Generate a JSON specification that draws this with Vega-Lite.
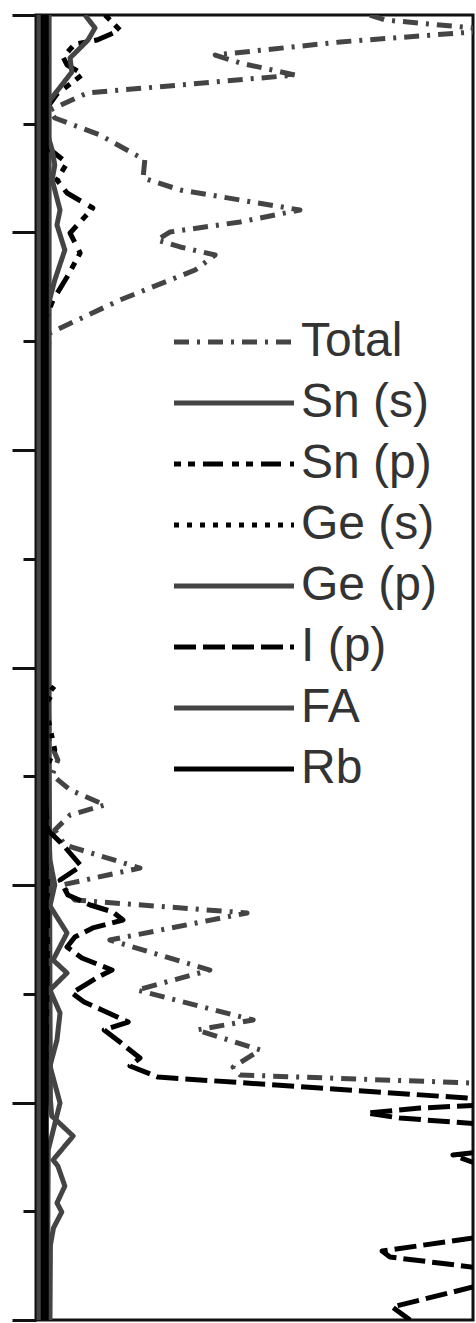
{
  "$schema": "https://vega.github.io/schema/vega-lite/v6.json",
  "width": 437,
  "height": 1305,
  "autosize": {"type": "none"},
  "padding": {"left": 36, "top": 15, "right": 3, "bottom": 3},
  "background": "white",
  "config": {
    "view": {"stroke": "#111", "strokeWidth": 3},
    "legend": {
      "orient": "none",
      "legendX": 138,
      "legendY": 303,
      "title": null,
      "padding": 0,
      "symbolType": "M-6,0H6",
      "symbolSize": 400,
      "symbolStrokeWidth": 5,
      "symbolOffset": 36,
      "labelOffset": 43,
      "labelFont": "Liberation Sans",
      "labelFontSize": 48,
      "labelColor": "#333",
      "rowPadding": 13,
      "labelLimit": 300
    }
  },
  "datasets": {
    "dos": [
      {"s":"Total","E":6.0,"d":7.64},{"s":"Total","E":5.954,"d":7.99},{"s":"Total","E":5.881,"d":10.0},{"s":"Total","E":5.862,"d":11.3},{"s":"Total","E":5.844,"d":10.0},{"s":"Total","E":5.752,"d":6.96},{"s":"Total","E":5.632,"d":4.10},{"s":"Total","E":5.559,"d":4.67},{"s":"Total","E":5.448,"d":5.93},{"s":"Total","E":5.283,"d":1.17},{"s":"Total","E":5.126,"d":0.32},{"s":"Total","E":5.053,"d":0.43},{"s":"Total","E":4.897,"d":1.46},{"s":"Total","E":4.667,"d":2.49},{"s":"Total","E":4.501,"d":2.45},{"s":"Total","E":4.391,"d":3.30},{"s":"Total","E":4.299,"d":4.67},{"s":"Total","E":4.207,"d":6.04},{"s":"Total","E":4.097,"d":4.67},{"s":"Total","E":4.005,"d":3.07},{"s":"Total","E":3.931,"d":2.77},{"s":"Total","E":3.867,"d":3.30},{"s":"Total","E":3.793,"d":4.10},{"s":"Total","E":3.655,"d":3.64},{"s":"Total","E":3.379,"d":1.92},{"s":"Total","E":3.076,"d":0.32},{"s":"Total","E":2.828,"d":0.25},{"s":"Total","E":2.0,"d":0.22},{"s":"Total","E":1.08,"d":0.22},{"s":"Total","E":0.161,"d":0.25},{"s":"Total","E":-0.299,"d":0.28},{"s":"Total","E":-0.667,"d":0.30},{"s":"Total","E":-0.851,"d":0.50},{"s":"Total","E":-0.989,"d":0.37},{"s":"Total","E":-1.126,"d":0.78},{"s":"Total","E":-1.264,"d":1.58},{"s":"Total","E":-1.356,"d":0.78},{"s":"Total","E":-1.494,"d":0.43},{"s":"Total","E":-1.632,"d":0.66},{"s":"Total","E":-1.844,"d":2.38},{"s":"Total","E":-2.0,"d":0.59},{"s":"Total","E":-2.138,"d":0.89},{"s":"Total","E":-2.257,"d":4.83},{"s":"Total","E":-2.506,"d":1.69},{"s":"Total","E":-2.782,"d":3.98},{"s":"Total","E":-2.966,"d":2.31},{"s":"Total","E":-3.241,"d":4.97},{"s":"Total","E":-3.333,"d":3.68},{"s":"Total","E":-3.517,"d":5.13},{"s":"Total","E":-3.674,"d":4.51},{"s":"Total","E":-3.747,"d":4.67},{"s":"Total","E":-3.821,"d":10.0},{"s":"Total","E":-3.885,"d":15.2},{"s":"Total","E":-6.0,"d":15.2},

      {"s":"Sn (s)","E":6.0,"d":0.30},{"s":"Sn (s)","E":3.379,"d":0.30},{"s":"Sn (s)","E":-0.299,"d":0.30},{"s":"Sn (s)","E":-3.057,"d":0.32},{"s":"Sn (s)","E":-3.977,"d":0.33},{"s":"Sn (s)","E":-4.124,"d":0.36},{"s":"Sn (s)","E":-4.308,"d":0.85},{"s":"Sn (s)","E":-4.529,"d":0.39},{"s":"Sn (s)","E":-4.584,"d":0.50},{"s":"Sn (s)","E":-4.768,"d":0.66},{"s":"Sn (s)","E":-4.924,"d":0.48},{"s":"Sn (s)","E":-5.007,"d":0.59},{"s":"Sn (s)","E":-5.154,"d":0.40},{"s":"Sn (s)","E":-5.31,"d":0.33},{"s":"Sn (s)","E":-6.0,"d":0.32},

      {"s":"Sn (p)","E":6.0,"d":1.58},{"s":"Sn (p)","E":5.862,"d":1.92},{"s":"Sn (p)","E":5.77,"d":1.40},{"s":"Sn (p)","E":5.733,"d":0.89},{"s":"Sn (p)","E":5.614,"d":0.62},{"s":"Sn (p)","E":5.54,"d":0.71},{"s":"Sn (p)","E":5.457,"d":1.08},{"s":"Sn (p)","E":5.366,"d":0.78},{"s":"Sn (p)","E":5.274,"d":0.48},{"s":"Sn (p)","E":5.145,"d":0.25},{"s":"Sn (p)","E":4.943,"d":0.18},{"s":"Sn (p)","E":4.786,"d":0.25},{"s":"Sn (p)","E":4.639,"d":0.71},{"s":"Sn (p)","E":4.483,"d":0.48},{"s":"Sn (p)","E":4.363,"d":0.71},{"s":"Sn (p)","E":4.225,"d":1.30},{"s":"Sn (p)","E":3.995,"d":0.78},{"s":"Sn (p)","E":3.811,"d":1.01},{"s":"Sn (p)","E":3.591,"d":0.71},{"s":"Sn (p)","E":3.379,"d":0.39},{"s":"Sn (p)","E":3.195,"d":0.21},{"s":"Sn (p)","E":2.46,"d":0.16},{"s":"Sn (p)","E":1.08,"d":0.14},{"s":"Sn (p)","E":-0.299,"d":0.16},{"s":"Sn (p)","E":-1.218,"d":0.23},{"s":"Sn (p)","E":-2.138,"d":0.27},{"s":"Sn (p)","E":-3.057,"d":0.25},{"s":"Sn (p)","E":-3.977,"d":0.21},{"s":"Sn (p)","E":-4.897,"d":0.18},{"s":"Sn (p)","E":-6.0,"d":0.16},

      {"s":"Ge (s)","E":6.0,"d":0.09},{"s":"Ge (s)","E":2.46,"d":0.09},{"s":"Ge (s)","E":-0.115,"d":0.14},{"s":"Ge (s)","E":-0.207,"d":0.43},{"s":"Ge (s)","E":-0.345,"d":0.21},{"s":"Ge (s)","E":-0.759,"d":0.43},{"s":"Ge (s)","E":-0.943,"d":0.21},{"s":"Ge (s)","E":-2.138,"d":0.21},{"s":"Ge (s)","E":-3.977,"d":0.16},{"s":"Ge (s)","E":-6.0,"d":0.14},

      {"s":"Ge (p)","E":6.0,"d":1.12},{"s":"Ge (p)","E":5.881,"d":1.35},{"s":"Ge (p)","E":5.77,"d":1.19},{"s":"Ge (p)","E":5.697,"d":1.01},{"s":"Ge (p)","E":5.605,"d":0.78},{"s":"Ge (p)","E":5.476,"d":0.82},{"s":"Ge (p)","E":5.356,"d":0.59},{"s":"Ge (p)","E":5.218,"d":0.32},{"s":"Ge (p)","E":4.989,"d":0.20},{"s":"Ge (p)","E":4.759,"d":0.37},{"s":"Ge (p)","E":4.621,"d":0.43},{"s":"Ge (p)","E":4.483,"d":0.37},{"s":"Ge (p)","E":4.207,"d":0.55},{"s":"Ge (p)","E":4.069,"d":0.48},{"s":"Ge (p)","E":3.839,"d":0.66},{"s":"Ge (p)","E":3.563,"d":0.43},{"s":"Ge (p)","E":3.287,"d":0.25},{"s":"Ge (p)","E":2.46,"d":0.22},{"s":"Ge (p)","E":-0.299,"d":0.24},{"s":"Ge (p)","E":-1.218,"d":0.26},{"s":"Ge (p)","E":-1.77,"d":0.32},{"s":"Ge (p)","E":-2.0,"d":0.43},{"s":"Ge (p)","E":-2.193,"d":0.32},{"s":"Ge (p)","E":-2.441,"d":0.71},{"s":"Ge (p)","E":-2.69,"d":0.39},{"s":"Ge (p)","E":-2.809,"d":0.71},{"s":"Ge (p)","E":-2.966,"d":0.32},{"s":"Ge (p)","E":-3.177,"d":0.55},{"s":"Ge (p)","E":-3.425,"d":0.48},{"s":"Ge (p)","E":-3.664,"d":0.32},{"s":"Ge (p)","E":-4.005,"d":0.55},{"s":"Ge (p)","E":-4.437,"d":0.28},{"s":"Ge (p)","E":-6.0,"d":0.26},

      {"s":"I (p)","E":6.0,"d":0.11},{"s":"I (p)","E":5.586,"d":0.23},{"s":"I (p)","E":5.218,"d":0.16},{"s":"I (p)","E":4.483,"d":0.18},{"s":"I (p)","E":3.747,"d":0.16},{"s":"I (p)","E":2.46,"d":0.11},{"s":"I (p)","E":0.621,"d":0.11},{"s":"I (p)","E":-1.034,"d":0.18},{"s":"I (p)","E":-1.494,"d":0.27},{"s":"I (p)","E":-1.632,"d":0.62},{"s":"I (p)","E":-1.825,"d":1.03},{"s":"I (p)","E":-1.954,"d":0.55},{"s":"I (p)","E":-2.092,"d":0.73},{"s":"I (p)","E":-2.184,"d":1.24},{"s":"I (p)","E":-2.248,"d":1.76},{"s":"I (p)","E":-2.322,"d":1.99},{"s":"I (p)","E":-2.395,"d":1.30},{"s":"I (p)","E":-2.478,"d":0.89},{"s":"I (p)","E":-2.57,"d":0.71},{"s":"I (p)","E":-2.671,"d":1.05},{"s":"I (p)","E":-2.782,"d":1.74},{"s":"I (p)","E":-2.837,"d":1.46},{"s":"I (p)","E":-2.993,"d":0.82},{"s":"I (p)","E":-3.076,"d":1.10},{"s":"I (p)","E":-3.149,"d":1.51},{"s":"I (p)","E":-3.26,"d":2.11},{"s":"I (p)","E":-3.333,"d":1.56},{"s":"I (p)","E":-3.444,"d":1.92},{"s":"I (p)","E":-3.591,"d":2.38},{"s":"I (p)","E":-3.664,"d":2.15},{"s":"I (p)","E":-3.766,"d":2.79},{"s":"I (p)","E":-3.867,"d":6.50},{"s":"I (p)","E":-3.959,"d":9.86},{"s":"I (p)","E":-4.005,"d":11.08},{"s":"I (p)","E":-4.051,"d":8.79},{"s":"I (p)","E":-4.097,"d":7.57},{"s":"I (p)","E":-4.143,"d":8.33},{"s":"I (p)","E":-4.198,"d":10.16},{"s":"I (p)","E":-4.345,"d":12.45},{"s":"I (p)","E":-4.483,"d":9.54},{"s":"I (p)","E":-4.575,"d":10.16},{"s":"I (p)","E":-4.897,"d":13.4},{"s":"I (p)","E":-5.237,"d":10.16},{"s":"I (p)","E":-5.366,"d":7.92},{"s":"I (p)","E":-5.421,"d":8.10},{"s":"I (p)","E":-5.522,"d":10.16},{"s":"I (p)","E":-5.614,"d":11.53},{"s":"I (p)","E":-5.697,"d":10.0},{"s":"I (p)","E":-5.88,"d":8.15},{"s":"I (p)","E":-6.0,"d":8.56},

      {"s":"FA","E":6.0,"d":0.07},{"s":"FA","E":0.0,"d":0.07},{"s":"FA","E":-6.0,"d":0.07},

      {"s":"Rb","E":6.0,"d":0.2},{"s":"Rb","E":0.0,"d":0.2},{"s":"Rb","E":-6.0,"d":0.2}
    ]
  },
  "data": {"name": "dos"},
  "layer": [
    {
      "mark": {"type": "line", "clip": true, "strokeJoin": "round"},
      "encoding": {
        "x": {"field": "d", "type": "quantitative", "scale": {"domain": [0, 10], "nice": false, "zero": false}, "axis": null},
        "y": {"field": "E", "type": "quantitative", "scale": {"domain": [-6, 6], "nice": false, "zero": false},
              "axis": {"orient": "left", "values": [-6, -4, -2, 0, 2, 4, 6], "labels": false, "title": null, "grid": false, "tickSize": 24, "tickWidth": 3, "tickColor": "#111", "domainColor": "#111", "domainWidth": 3}},
        "order": {"field": "E", "type": "quantitative", "sort": "descending"},
        "strokeWidth": {"condition": {"test": "datum.s === 'Rb'", "value": 8}, "value": 5},
        "color": {"field": "s", "type": "nominal",
                  "scale": {"domain": ["Total", "Sn (s)", "Sn (p)", "Ge (s)", "Ge (p)", "I (p)", "FA", "Rb"],
                            "range": ["#444", "#444", "#000", "#000", "#444", "#000", "#444", "#000"]}},
        "strokeDash": {"field": "s", "type": "nominal",
                  "scale": {"domain": ["Total", "Sn (s)", "Sn (p)", "Ge (s)", "Ge (p)", "I (p)", "FA", "Rb"],
                            "range": [[15, 8, 3, 8], [1, 0], [7, 7, 7, 8, 20, 9], [5, 8], [1, 0], [22, 7], [1, 0], [1, 0]]}}
      }
    },
    {
      "mark": {"type": "point", "opacity": 0},
      "encoding": {
        "x": {"field": "d", "type": "quantitative", "axis": null},
        "y": {"field": "E", "type": "quantitative",
              "axis": {"orient": "left", "values": [-5, -3, -1, 1, 3, 5], "labels": false, "title": null, "grid": false, "domain": false, "tickSize": 13, "tickWidth": 3, "tickColor": "#111"}}
      }
    }
  ],
  "resolve": {"axis": {"y": "independent"}}
}
